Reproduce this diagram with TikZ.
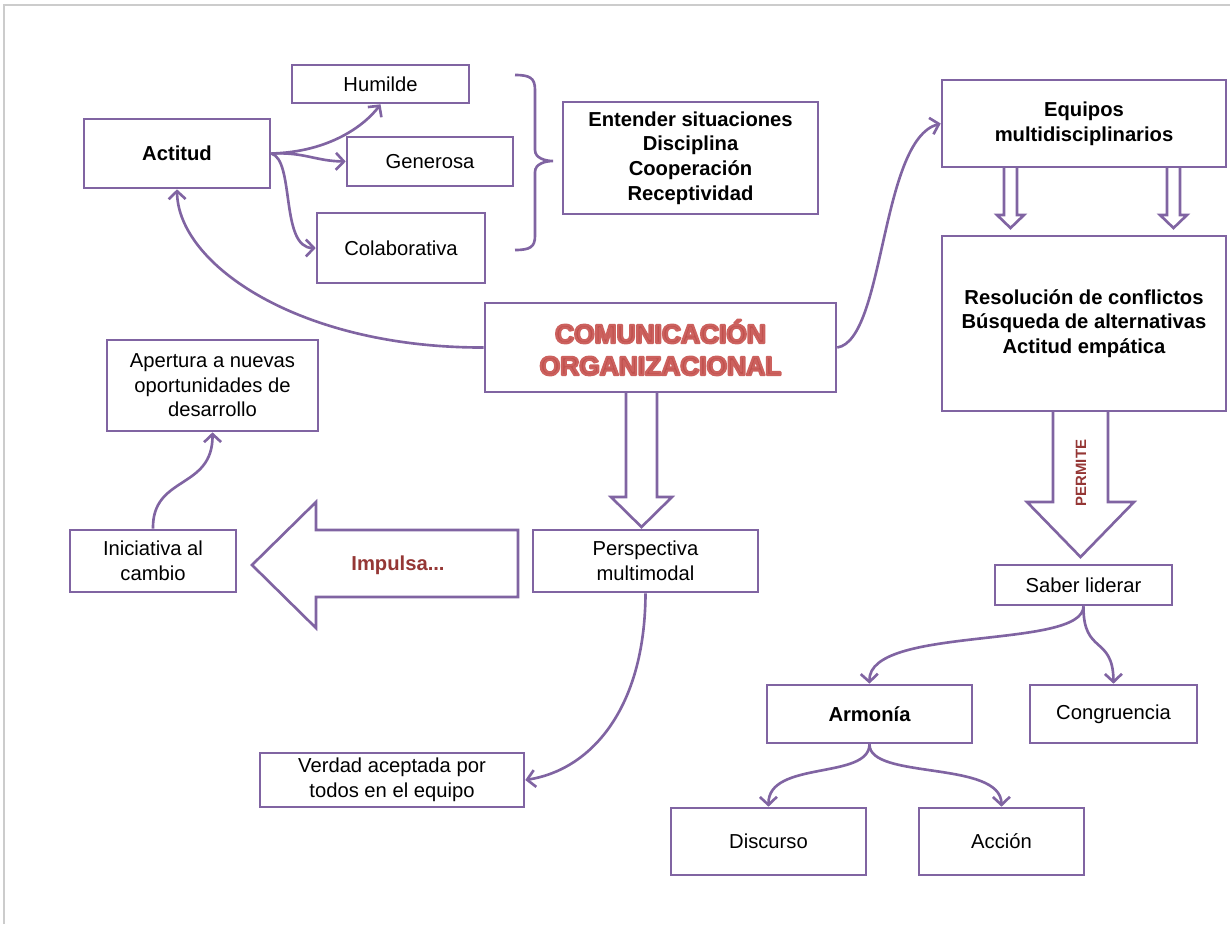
\documentclass[tikz,border=0pt]{standalone}
\usepackage{fontspec}
\setmainfont{Liberation Sans}
\usetikzlibrary{arrows.meta, positioning}
\definecolor{morado}{HTML}{8064A2}
\definecolor{rojoTit}{HTML}{C0504D}
\definecolor{rojoOsc}{HTML}{953735}
% outlined letters (fill + stroke)
\newcommand{\contorno}{\special{pdf:literal direct 2 Tr 1 j 1.3 w 0.80 0.38 0.37 RG}}

\begin{document}
\begin{tikzpicture}[x=0.02cm, y=-0.02cm]
		\tikzstyle{Caja} = [rectangle, draw=morado, line width=1.5pt, fill=white, inner sep=0pt, text centered, align=center, font=\fontsize{11.5}{14}\selectfont]
		\tikzstyle{CajaB} = [Caja, font=\fontsize{11.5}{14}\selectfont\bfseries]
		\tikzstyle{arrow} = [draw=morado, line width=1.5pt, -{Straight Barb[length=1.6mm, width=3.4mm]}]
		\tikzstyle{BlockArrow} = [draw=morado, line width=1.5pt, fill=white]
		
		\useasboundingbox (0,0) rectangle (1230,924);
		\draw[gray!40, line width=1pt] (4,924) -- (4,5) -- (1230,5);
		
		% block arrows
		\draw[BlockArrow] (626,390) -- (626,497) -- (611,497) -- (641.5,527) -- (672,497) -- (657,497) -- (657,390);
		\draw[BlockArrow] (1053,409) -- (1053,502) -- (1027,502) -- (1080.5,557) -- (1134,502) -- (1108,502) -- (1108,409);
		\draw[BlockArrow] (518,530) -- (316,530) -- (316,502) -- (252,565) -- (316,628) -- (316,597) -- (518,597) -- cycle;
		\draw[BlockArrow] (1004,166) -- (1004,215) -- (997,215) -- (1010.5,228) -- (1024,215) -- (1017,215) -- (1017,166);
		\draw[BlockArrow] (1167,166) -- (1167,215) -- (1160,215) -- (1173.5,228) -- (1187,215) -- (1180,215) -- (1180,166);
		\node (impulsa) [text=rojoOsc, font=\fontsize{11.5}{14}\selectfont\bfseries] at (398,565) {Impulsa...};
		\node (permite) [rotate=90, text=rojoOsc, font=\fontsize{8.5}{10}\selectfont\bfseries] at (1081,473) {PERMITE};
		
		\node (actitud) [CajaB, minimum width=3.72cm, minimum height=1.38cm] at (177,153.5) {Actitud};
		\node (humilde) [Caja, minimum width=3.54cm, minimum height=0.76cm] at (380.5,84) {Humilde};
		\node (generosa) [Caja, minimum width=3.32cm, minimum height=0.98cm] at (430,161.5) {Generosa};
		\node (colab) [Caja, minimum width=3.36cm, minimum height=1.4cm] at (401,248) {Colaborativa};
		\node (valores) [CajaB, minimum width=5.1cm, minimum height=2.24cm] at (690.5,158) {Entender situaciones\\Disciplina\\Cooperación\\Receptividad};
		\node (equipos) [CajaB, minimum width=5.68cm, minimum height=1.74cm] at (1084,123.5) {Equipos\\multidisciplinarios};
		\node (resol) [CajaB, minimum width=5.68cm, minimum height=3.5cm] at (1084,323.5) {Resolución de conflictos\\Búsqueda de alternativas\\Actitud empática};
		\node (comOrg) [Caja, minimum width=7.02cm, minimum height=1.78cm, text=rojoTit, font=\fontsize{15}{18.2}\selectfont\bfseries] at (660.5,347.5) {\contorno COMUNICACIÓN\\\contorno ORGANIZACIONAL};
		\node (apertura) [Caja, minimum width=4.22cm, minimum height=1.82cm] at (212.5,385.5) {Apertura a nuevas\\oportunidades de\\desarrollo};
		\node (iniciativa) [Caja, minimum width=3.32cm, minimum height=1.24cm] at (153,561) {Iniciativa al\\cambio};
		\node (perspectiva) [Caja, minimum width=4.5cm, minimum height=1.24cm] at (645.5,561) {Perspectiva\\multimodal};
		\node (verdad) [Caja, minimum width=5.28cm, minimum height=1.08cm] at (392,780) {Verdad aceptada por\\todos en el equipo};
		\node (liderar) [Caja, minimum width=3.54cm, minimum height=0.8cm] at (1083.5,585) {Saber liderar};
		\node (armonia) [CajaB, minimum width=4.1cm, minimum height=1.16cm] at (869.5,714) {Armonía};
		\node (congruencia) [Caja, minimum width=3.34cm, minimum height=1.16cm] at (1113.5,714) {Congruencia};
		\node (discurso) [Caja, minimum width=3.9cm, minimum height=1.34cm] at (768.5,841.5) {Discurso};
		\node (accion) [Caja, minimum width=3.3cm, minimum height=1.34cm] at (1001.5,841.5) {Acción};
		
		% brace
		\draw[morado, line width=1.5pt] (515,75) .. controls (530,75) and (535,78) .. (535,90) -- (535,150) .. controls (535,158) and (545,161) .. (553,161) .. controls (545,161) and (535,164) .. (535,172) -- (535,236) .. controls (535,247) and (530,250) .. (515,250);
		
		\draw[arrow] (comOrg.west) .. controls (300,348) and (178,265) .. (actitud.south);
		\draw[arrow] (comOrg.east) .. controls (885,340) and (880,140) .. (equipos.west);
		\draw[arrow] (actitud.east) .. controls (330,152) and (365,125) .. (humilde.south);
		\draw[arrow] (actitud.east) .. controls (305,152) and (315,161) .. (generosa.west);
		\draw[arrow] (actitud.east) .. controls (295,160) and (280,248) .. (colab.west);
		\draw[arrow] (iniciativa.north) .. controls (152,475) and (213,490) .. (apertura.south);
		\draw[arrow] (perspectiva.south) .. controls (645,710) and (590,770) .. (verdad.east);
		\draw[arrow] (liderar.south) .. controls (1083,650) and (868,625) .. (armonia.north);
		\draw[arrow] (liderar.south) .. controls (1083,655) and (1113,635) .. (congruencia.north);
		\draw[arrow] (armonia.south) .. controls (869,780) and (768,760) .. (discurso.north);
		\draw[arrow] (armonia.south) .. controls (869,780) and (1001,760) .. (accion.north);
		\end{tikzpicture}
\end{document}
